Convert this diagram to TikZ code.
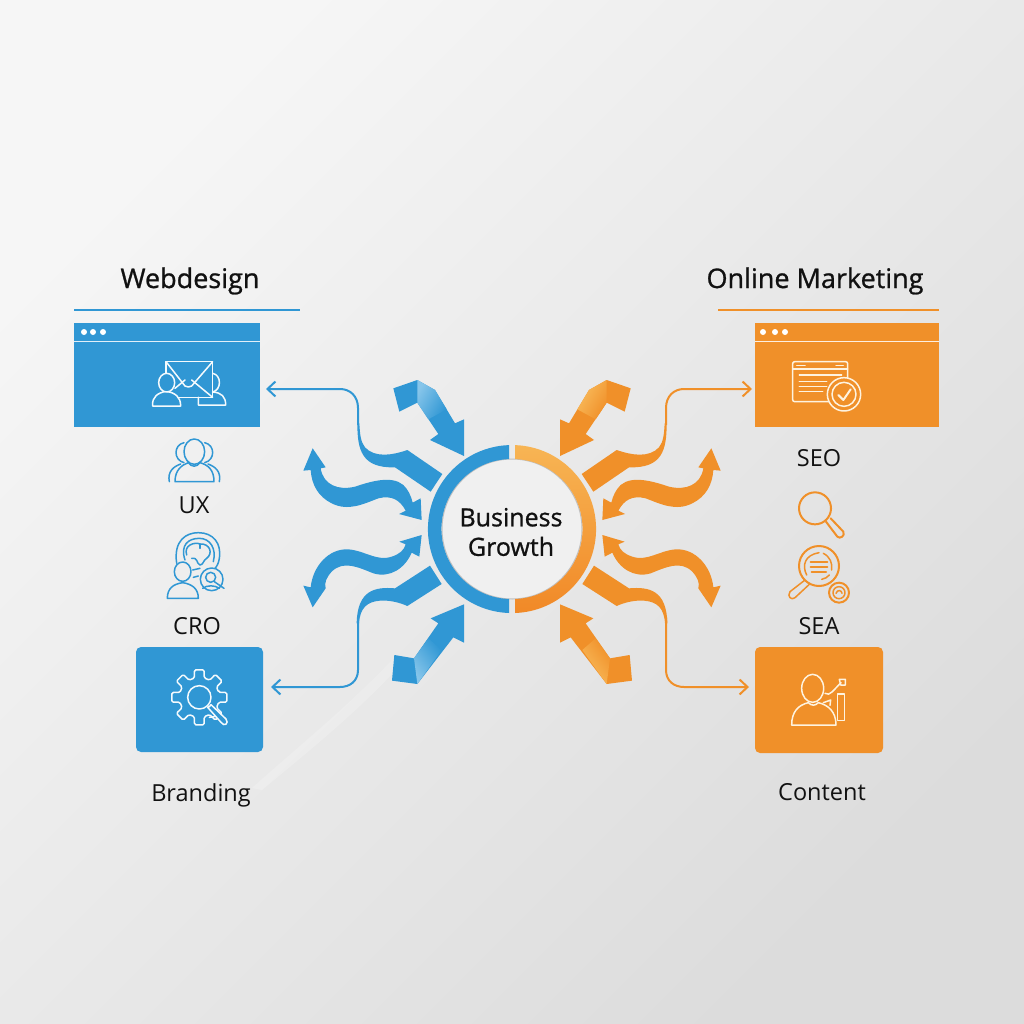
\documentclass[tikz,border=0pt]{standalone}
\usepackage{fontspec}
\setmainfont{Open Sans}
\newfontfamily\medfont[FakeBold=0.9]{Open Sans}
\usetikzlibrary{arrows.meta,shadings}
\definecolor{bl}{HTML}{3097D4}
\definecolor{blL}{HTML}{86C5EA}
\definecolor{or}{HTML}{F09029}
\definecolor{orL}{HTML}{F9BE5F}
\definecolor{ink}{HTML}{111111}
\definecolor{ringin}{HTML}{F0F0F0}
\definecolor{pl}{HTML}{F4FAFD}
\definecolor{pr}{HTML}{FEF3DF}
\definecolor{bgA}{HTML}{F6F6F6}
\definecolor{bgB}{HTML}{EEEEEE}
\definecolor{bgC}{HTML}{DCDCDC}
\tikzset{
  card/.style={anchor=north west,inner sep=0pt,outer sep=0pt},
  title/.style={font=\medfont\fontsize{27}{30}\selectfont,text=ink,inner sep=0pt},
  lab/.style={font=\fontsize{23.5}{27}\selectfont,text=ink,inner sep=0pt},
  wire/.style={line width=2pt,-{Straight Barb[length=8pt,width=15pt,line width=2pt]}},
  ico/.style={line width=1.5pt,line join=round,line cap=round},
}
\newcommand{\ribbons}{%
  \fill[ac] (400,85)--(472,60)--(525,90)--(585,190)--(612,178)--(612,288)--(510,240)--(535,222)--(472,128)--(418,155)--cycle;
  \shade[left color=acL,right color=ac,shading angle=60] (472,60)--(525,90)--(560,148)--(505,178)--(472,128)--cycle;
  \fill[ac] (403,885)--(462,895)--(535,790)--(512,775)--(612,733)--(612,848)--(580,832)--(472,972)--(396,962)--cycle;
  \shade[left color=acL,right color=ac,shading angle=127] (462,895)--(505,835)--(545,870)--(472,972)--cycle;
  \fill[ac] (158,265)--(197,322)--(182,325)
     .. controls (190,375) and (235,392) .. (285,380)
     .. controls (330,365) and (395,345) .. (430,375)
     .. controls (445,390) and (452,405) .. (458,428)
     --(482,415)--(485,480)--(417,462)--(437,452)
     .. controls (420,420) and (395,405) .. (355,415)
     .. controls (310,432) and (265,455) .. (215,430)
     .. controls (175,410) and (155,375) .. (152,330)
     --(130,332)--cycle;
  \fill[ac] (485,525)--(478,590)--(455,578)
     .. controls (435,625) and (390,655) .. (340,640)
     .. controls (295,622) and (250,600) .. (215,635)
     .. controls (200,652) and (192,668) .. (197,685)
     --(158,742)--(130,677)--(152,682)
     .. controls (158,620) and (205,565) .. (265,568)
     .. controls (315,572) and (350,605) .. (395,590)
     .. controls (420,582) and (432,570) .. (437,553)
     --(418,545)--cycle;
  \fill[ac] (547,342)--(442,270)
     .. controls (400,285) and (345,295) .. (315,262)
     .. controls (302,245) and (300,225) .. (298,190)
     -- (292,190)
     .. controls (292,270) and (305,325) .. (405,322)
     --(512,395)--cycle;
  \fill[ac] (510,617)--(405,685)
     .. controls (345,680) and (292,690) .. (290,790)
     -- (297,790)
     .. controls (300,745) and (320,725) .. (360,722)
     .. controls (390,720) and (420,728) .. (442,738)
     --(545,672)--cycle;
}
\begin{document}
\begin{tikzpicture}[x=1pt,y=-1pt]
\useasboundingbox (0,0) rectangle (1024,1024);
\shade[left color=bgA,middle color=bgB,right color=bgC,shading angle=45] (0,0) rectangle (1024,1024);
\fill[white,opacity=.2] (252,788) .. controls (300,745) and (350,705) .. (395,657)--(403,662) .. controls (360,710) and (310,750) .. (262,790)--cycle;

% headings
\node[title] (webT) at (190,281) {Webdesign};
\node[title] (onT) at (815,281) {Online Marketing};
\coordinate (wr0) at (74,309.5); \coordinate (wr1) at (300,309.5);
\coordinate (or0) at (718,309.5); \coordinate (or1) at (939,309.5);
\draw[bl,line width=2pt] (wr0)--(wr1);
\draw[or,line width=2pt] (or0)--(or1);

% cards
\node[card,fill=bl,minimum width=186pt,minimum height=104pt] (webcard) at (74,323) {};
\node[card,fill=or,minimum width=184pt,minimum height=104pt] (seocard) at (755,323) {};
\node[card,fill=bl,rounded corners=5pt,minimum width=127pt,minimum height=105pt] (brandcard) at (136,647) {};
\node[card,fill=or,rounded corners=5pt,minimum width=128pt,minimum height=106pt] (contentcard) at (755,647) {};
\draw[white!85!bl,line width=1.6pt] (74,341.5)--(260,341.5);
\draw[white!85!or,line width=1.6pt] (755,341.5)--(939,341.5);
\foreach \x in {84,93,103} \fill[white] (\x,332) circle[radius=3];
\foreach \x in {763,775,785} \fill[white] (\x,332) circle[radius=3];

% labels
\node[lab] (ux) at (194,505) {UX};
\node[lab] (cro) at (197,626) {CRO};
\node[lab] (brand) at (201,795) {Branding};
\node[lab] (seo) at (819,458) {SEO};
\node[lab] (sea) at (819,626) {SEA};
\node[lab] (content) at (822,792) {Content};

% ribbons
\begin{scope}[shift={(260,360)},xscale=1/3,yscale=1/3]
  \colorlet{ac}{bl}\colorlet{acL}{blL}\ribbons
\end{scope}
\begin{scope}[shift={(764,360)},xscale=-1/3,yscale=1/3]
  \colorlet{ac}{or}\colorlet{acL}{orL}\ribbons
\end{scope}

% wires
\coordinate (w1) at (358,425); \coordinate (w2) at (358,618);
\coordinate (w3) at (666,425); \coordinate (w4) at (666,618);
\coordinate (y1) at (0,389); \coordinate (y2) at (0,687);
\draw[wire,bl,shorten >=6pt] (w1)--(358,408) .. controls (358,396) and (350,389) .. (340,389) -- (webcard.east |- y1);
\draw[wire,bl,shorten >=8pt] (w2)--(358,670) .. controls (358,681) and (350,687) .. (340,687) -- (brandcard.east |- y2);
\draw[wire,or,shorten >=3pt] (w3)--(666,408) .. controls (666,396) and (674,389) .. (684,389) -- (seocard.west |- y1);
\draw[wire,or,shorten >=6pt] (w4)--(666,670) .. controls (666,681) and (674,687) .. (684,687) -- (contentcard.west |- y2);

% centre
\node[circle,fill=ringin,minimum size=140pt,inner sep=0pt,draw=black!25,line width=1pt] (hub) at (512,529) {};
\fill[bl] (509,445.1) arc[start angle=-92,end angle=-268,radius=84] -- (509,599) arc[start angle=-268,end angle=-92,radius=70] -- cycle;
\shade[top color=orL!80!or,middle color=or,bottom color=or!95!red] (515,445.1) arc[start angle=-88,end angle=88,radius=84] -- (515,599) arc[start angle=88,end angle=-88,radius=70] -- cycle;
\node[align=center,font=\medfont\fontsize{25}{29.5}\selectfont,text=ink,inner sep=0pt] (hubtext) at (511,532) {Business\\Growth};

% mail icon
\begin{scope}[shift={(60,260)},xscale=1/3,yscale=1/3,ico,draw=pl]
  \draw (318,305) rectangle (458,412);
  \draw (318,305)--(375,378) .. controls (380,382) and (390,382) .. (395,378)--(458,305);
  \draw (345,385)--(375,360) (395,360)--(458,412);
  \draw (458,340) .. controls (485,345) and (485,390) .. (458,396);
  \draw (415,412)--(415,435)--(497,435) .. controls (497,410) and (485,398) .. (458,396);
  \draw[fill=bl] (278,438) .. controls (275,410) and (295,398) .. (318,394) .. controls (345,398) and (362,410) .. (362,438) --cycle;
  \draw[fill=bl] (320,368) ellipse[x radius=24,y radius=28];
\end{scope}

% UX icon
\begin{scope}[shift={(60,260)},xscale=1/3,yscale=1/3,ico,draw=bl]
  \draw (403,575) ellipse[x radius=31,y radius=38];
  \draw (345,665) .. controls (345,630) and (365,615) .. (385,608) .. controls (395,622) and (410,622) .. (420,608) .. controls (445,615) and (462,630) .. (462,665) --cycle;
  \draw (372,548) .. controls (340,555) and (340,600) .. (372,608);
  \draw (434,548) .. controls (466,555) and (466,600) .. (434,608);
  \draw (328,665) .. controls (322,635) and (340,620) .. (362,612);
  \draw (478,665) .. controls (484,635) and (466,620) .. (444,612);
\end{scope}

% CRO icon
\begin{scope}[shift={(120,520)},xscale=1/3,yscale=1/3,ico,draw=bl]
  \draw (170,130) .. controls (160,60) and (200,38) .. (235,38) .. controls (280,38) and (305,70) .. (298,115) .. controls (296,130) and (290,140) .. (285,145);
  \draw (195,120) .. controls (180,75) and (205,55) .. (238,55) .. controls (270,55) and (290,85) .. (280,125);
  \draw (200,105) .. controls (190,75) and (225,65) .. (240,72) .. controls (270,70) and (280,100) .. (260,115) .. controls (250,120) and (250,135) .. (240,135) .. controls (228,130) and (235,112) .. (215,115);
  \draw (240,72)--(240,85);
  \draw (188,155) ellipse[x radius=25,y radius=29];
  \draw (142,235) .. controls (142,205) and (160,192) .. (188,188) .. controls (215,192) and (235,205) .. (235,235) --cycle;
  \draw (218,150)--(240,145) (220,172)--(235,168);
  \draw (275,178) circle[radius=34];
  \draw (272,172) circle[radius=15];
  \draw (283,185)--(312,205);
  \draw (248,205) .. controls (260,195) and (285,195) .. (298,205);
\end{scope}

% gear icon
\begin{scope}[shift={(120,520)},xscale=1/3,yscale=1/3,ico,draw=pl]
  \begin{scope}[shift={(238,532)}]
    \draw[rounded corners=1.5pt] (-14:60) \foreach \a in {0,45,...,315} { -- (\a-14:60) -- (\a-10:84) -- (\a+10:84) -- (\a+14:60) } -- cycle;
    \draw (0,0) circle[radius=35];
    \draw[fill=bl] (25,30)--(65,75) .. controls (75,90) and (90,78) .. (80,65)--(35,22)
       .. controls (33,26) and (29,29) .. (25,30) --cycle;
    \draw (45,58)--(30,60);
  \end{scope}
\end{scope}

% SEO icon
\begin{scope}[shift={(700,260)},xscale=1/3,yscale=1/3,ico,draw=pr]
  \draw[rounded corners=2pt] (400,425)--(278,425)--(278,305)--(443,305)--(443,365);
  \draw (278,327)--(443,327);
  \draw (290,317)--(315,317) (408,317)--(430,317);
  \draw (298,345)--(425,345) (298,365)--(380,365) (298,380)--(380,380) (298,395)--(368,395);
  \draw[fill=or] (432,403) circle[radius=50];
  \draw (432,403) circle[radius=36];
  \draw[line width=2pt] (415,405)--(430,420)--(452,388);
\end{scope}

% magnifier icon
\begin{scope}[shift={(700,260)},xscale=1/3,yscale=1/3,ico,draw=or]
  \draw[line width=2pt] (345,745) circle[radius=48];
  \draw[line width=2pt] (378,785)--(412,830) .. controls (420,838) and (436,828) .. (430,815)--(392,775);
\end{scope}

% SEA icon
\begin{scope}[shift={(740,530)},xscale=1/3,yscale=1/3,ico,draw=or]
  \draw[line width=2pt] (237,108) circle[radius=60];
  \draw (200,135) .. controls (185,105) and (195,75) .. (237,68) (250,70) .. controls (270,80) and (278,100) .. (275,120) (268,135) .. controls (262,142) and (255,146) .. (245,148);
  \draw[line width=2pt] (212,95)--(262,95) (212,110)--(262,110) (215,125)--(258,125);
  \draw (195,150)--(150,185) .. controls (140,200) and (155,212) .. (165,203)--(208,163);
  \draw[line width=2pt] (297,188) circle[radius=30];
  \draw (297,188) circle[radius=18];
  \draw (288,190) .. controls (292,178) and (305,180) .. (306,190);
\end{scope}

% content icon
\begin{scope}[shift={(740,530)},xscale=1/3,yscale=1/3,ico,draw=pr]
  \draw (218,475) ellipse[x radius=33,y radius=42];
  \draw (155,585) .. controls (155,545) and (175,525) .. (205,518) .. controls (215,528) and (225,528) .. (235,518) .. controls (265,525) and (288,545) .. (288,585) --cycle;
  \draw (293,492) rectangle (314,572);
  \draw (255,490) .. controls (270,500) and (280,480) .. (303,458);
  \draw (298,448)--(316,448)--(316,465)--(302,465)--cycle;
  \draw (250,518)--(272,510)--(270,526);
\end{scope}
\end{tikzpicture}
\end{document}
